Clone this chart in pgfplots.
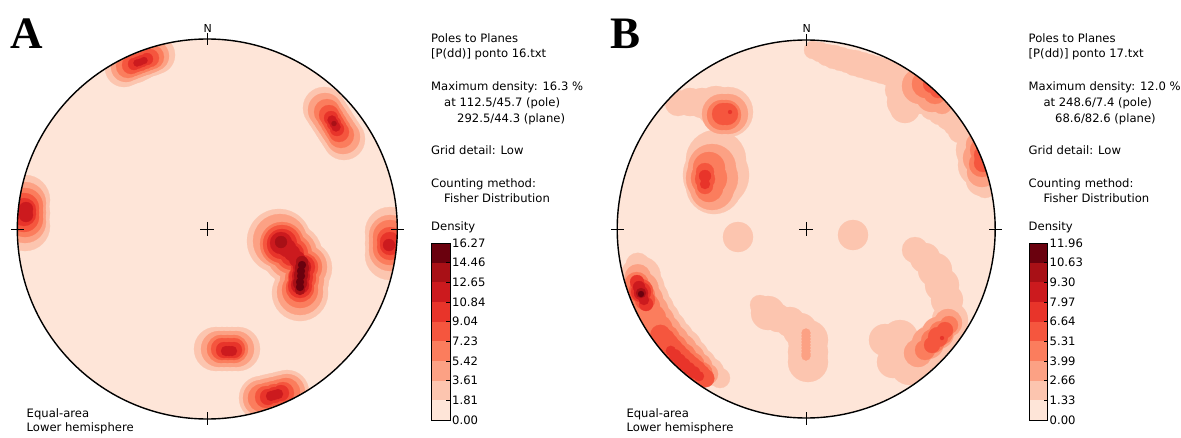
\documentclass[border=0pt]{standalone}
\usepackage{pgfplots}
\usepackage{pgfplotstable}
\pgfplotsset{compat=1.18}
\usepackage{fontspec}
\setmainfont{DejaVu Sans}
\newfontfamily\tnr{Liberation Serif}
\definecolor{L1}{HTML}{FEE5D8}
\definecolor{L2}{HTML}{FCC5AF}
\definecolor{L3}{HTML}{FCA184}
\definecolor{L4}{HTML}{FB7D5D}
\definecolor{L5}{HTML}{F5563E}
\definecolor{L6}{HTML}{E8342A}
\definecolor{L7}{HTML}{CC1A1E}
\definecolor{L8}{HTML}{A81016}
\definecolor{L9}{HTML}{6A010E}
\pgfplotsset{blob/.style={scatter, only marks, mark=*,
  visualization depends on={\thisrow{r} \as \blobr},
  scatter/@pre marker code/.code={\scope[draw=#1, fill=#1, line width=0.2pt, mark size=\blobr]},
  scatter/@post marker code/.code={\endscope}}}
% density levels: x y r (pixel units, y downwards)
\pgfplotstableread{
x y r
207.3 229 190
806.2 229 189
}\levA
\pgfplotstableread{
x y r
124 68 19
129 66 19
135 64 19
140 61.5 19
145 59 19
151 57 19
156 55 19
324 108 21
327.3 113.2 21
330.7 118.3 21
334 123.5 21
337.3 128.7 21
340.7 133.8 21
344 139 21
25 200 25
25 213 25
25 226 25
390 232 25
390 243.5 25
390 255 25
279 241 32
292 254 30
305 268 27
302 280 27
300 293 28
216 349 22
222 349 22
227 349 22
232 349 22
238 349 22
261 398 22
267.5 396.5 22
274 395 22
280.5 393.5 22
287 392 22
813 50 9
820 52 10
827 55 11
834 57 12
841 59 12
848 61 12
855 63 13
862 65 13
869 67 13
876 69 13
883 71 13
890 73 13
897 76 13
898 90 13
903 102 16
905 108 15
915 85 16
922 88 26
932 108 12
940 113 12
948 118 12
955 124 12
960 131 12
975 140 16
978 150 22
980 165 22
982 180 16
985 188 10
678 103 13
690 102 14
702 103 15
716 106 20
728 112 25
716 160 30
716 175 33
714 186 28
738 237 15
853 235 15
637.8 264.8 12
640.7 276.4 20
644.4 287.8 20
648.9 299.0 20
654.1 309.8 20
660.1 320.1 20
666.9 330.1 20
674.2 339.6 20
682.3 348.5 20
690.9 356.8 18
700.1 364.5 16
709.8 371.6 14
720 378 10
760 305 10
768 313 17
778 318 14
790 322 15
800 330 17
808 340 20
808 352 20
808 362 20
915 250 13
925 258 15
935 270 17
942 285 17
947 300 16
950 320 18
935 345 22
885 340 16
900 338 18
893 362 16
910 365 20
925 370 15
955 340 18
}\levB
\pgfplotstableread{
x y r
126 67 15
131 65 15
136 63 15
140 61.5 15
145 60 15
150 58 15
154 56 15
325 110 17
328 114.5 17
331 119 17
334 123.5 17
337 128 17
340 132.5 17
343 137 17
25 203 21
25 212.5 21
25 222 21
390 236 21
390 243 21
390 250 21
280 241 27
292 254 25
305 267 22
302 280 22
300 292 23
219 349 18
224 349 18
230 349 18
236 349 18
261 398 18
267.5 396.5 18
274 395 18
280.5 393.5 18
287 392 18
920 86 18
932 96 16
942 104 10
980 145 14
980 158 17
982 172 15
722 114 20
728 114 20
712 168 24
712 178 26
712 188 22
637.8 277.2 13
641.6 288.9 17
646.1 300.2 17
651.5 311.2 17
657.6 321.7 17
664.4 331.9 17
671.9 341.5 17
680.1 350.6 17
688.9 359.0 16
698.3 366.9 14
708.1 374.1 10
806 333 4.5
806 336 4.5
806 339 4.5
806 342 4.5
806 345 4.5
806 348 4.5
806 351 4.5
806 354 4.5
806 356 4.5
918 353 14
928 343 16
938 333 16
948 323 14
}\levC
\pgfplotstableread{
x y r
128 66 12
132 64.5 12
136 63 12
140 61.5 12
144 60 12
148 58.5 12
152 57 12
327 112 13
330.5 117.7 13
334 123.5 13
337.5 129.2 13
341 135 13
25 206 18
25 212.5 18
25 219 18
390 237 17
390 242.5 17
390 248 17
282 244 22
292 254 20
305 267 17
302 279 17
300 290 18
221 349 14
227.5 349 14
234 349 14
262 398 14
268 396.5 14
274 395 14
280 393.5 14
286 392 14
926 84 14
935 92 12
982 150 12
982 164 13
722 115 15
726 115 15
709 168 16
709 178 18
709 188 14
636.7 284.0 12
641.0 295.7 14
646.0 307.0 14
651.9 318.0 14
658.4 328.5 14
665.7 338.6 14
673.7 348.1 14
682.3 357.0 14
691.6 365.3 13
701.4 373.0 11
925 350 10
933 341 12
941 333 12
949 325 9
}\levD
\pgfplotstableread{
x y r
131 65 9
135 63.5 9
140 62 9
145 60 9
150 58 9
329 115 10
331.5 119.2 10
334 123.5 10
336.5 127.7 10
339 132 10
24 208 15
24 212.5 15
24 217 15
390 240 13
390 247 13
282 244 19
292 254 16
304 267 14
302 278 14
300 288 14
222 349 11
228 349 11
234 349 11
266 397 11
274.5 395 11
283 393 11
932 84 9
938 90 8
983 155 9
983 163 9
723 114 11
727 114 11
705 172 9
705 179 10
705 186 8
641 291 12
645 300 10
660.4 334.8 10
664.2 339.8 11
668.1 344.7 11
672.2 349.4 11
676.5 354.0 11
681.0 358.5 11
685.6 362.8 11
690.3 366.9 11
695.2 370.8 11
700.2 374.6 10
705.3 378.3 9
932 345 8
938 337 10
945 330 8
}\levE
\pgfplotstableread{
x y r
134 64 6
138 62.5 6
142 61 6
147 59 6
331 118 7
334 123.5 7
337 129 7
24 210 12
24 214 12
390 242 10
390 245 10
282 244 15
292 254 12
303 267 12
301 277 12
300 286 12
224 350 8
229 350 8
234 350 8
268 397 8
274.5 395 8
281 393 8
986 158 5
730 112 2
705 176 6
705 184 5
637 282 7
641 292 10
646 304 7
670.8 350.8 5
675.1 355.4 6
679.6 359.9 6
684.2 364.2 6
689.0 368.4 6
694.0 372.4 6
699.0 376.2 5
942 338 2
}\levF
\pgfplotstableread{
x y r
137 63 3.5
140.5 62 3.5
144 60.5 3.5
332 120 4.5
334 123.5 4.5
336 127 4.5
26 209 7
26 215 7
389 245 6
281 243 11
287 248 9
292 253 8
297 259 8
302 267 9
301 276 9
300 285 9
226 351 5
229 351 5
232 351 5
271 396 5
274.5 395 5
278 394 5
639 287 6
641 293 7
644 300 5
}\levG
\pgfplotstableread{
x y r
334 123.5 2.5
281 242 6
302 262 6
302 268 7
301 275 7
300 283 7
300 290 5
641 293 5
}\levH
\pgfplotstableread{
x y r
302 265 4
301 271 4
301 276 4
300 282 4
300 287 4
641 294 3
}\levI
\begin{document}
\begin{tikzpicture}
\useasboundingbox (0,0) rectangle (1181pt,437pt);
\begin{axis}[at={(0pt,0pt)}, anchor=south west, width=1181pt, height=437pt,
  scale only axis, xmin=0, xmax=1181, ymin=0, ymax=437, y dir=reverse,
  hide axis, clip=false]
\addplot[blob=L1] table {\levA};
\addplot[blob=L2] table {\levB};
\addplot[blob=L3] table {\levC};
\addplot[blob=L4] table {\levD};
\addplot[blob=L5] table {\levE};
\addplot[blob=L6] table {\levF};
\addplot[blob=L7] table {\levG};
\addplot[blob=L8] table {\levH};
\addplot[blob=L9] table {\levI};
\end{axis}
\begin{scope}[x=1pt, y=-1pt, shift={(0pt,437pt)}]
% masks outside the nets
\fill[white, even odd rule] (-30,-30) rectangle (425,470) (207.3,229) circle[radius=190];
\fill[white, even odd rule] (590,-30) rectangle (1025,470) (806.2,229) circle[radius=189];
% nets
\draw[line width=1.4pt] (207.3,229) circle[radius=190];
\draw[line width=1.4pt] (806.2,229) circle[radius=189];
\draw[line width=0.8pt] (200.3,229) -- (214.3,229) (207.3,222) -- (207.3,236);
\draw[line width=0.8pt] (207.3,33) -- (207.3,45) (207.3,412) -- (207.3,425)
  (11,229) -- (24,229) (391,229) -- (404,229);
\draw[line width=0.8pt] (799.2,229) -- (813.2,229) (806.2,222) -- (806.2,236);
\draw[line width=0.8pt] (806.2,34) -- (806.2,46) (806.2,412) -- (806.2,425)
  (611,229) -- (624,229) (989,229) -- (1002,229);
\node[font=\fontsize{11}{12}\selectfont, inner sep=0] at (207.8,28.5) {N};
\node[font=\fontsize{11}{12}\selectfont, inner sep=0] at (806.7,28.5) {N};
% panel letters
\node[anchor=base west, inner sep=0, font=\tnr\bfseries\fontsize{45}{45}\selectfont] at (10,49) {A};
\node[anchor=base west, inner sep=0, font=\tnr\bfseries\fontsize{45}{45}\selectfont] at (610,49) {B};
% text blocks
\begin{scope}[every node/.style={anchor=base west, inner sep=0, font=\fontsize{11.6}{13}\selectfont}]
\node at (431,42.7) {Poles to Planes};
\node at (431,57.7) {[P(dd)] ponto 16.txt};
\node at (431,91) {Maximum density: 16.3 \%};
\node at (444,107) {at 112.5/45.7 (pole)};
\node at (457,123) {292.5/44.3 (plane)};
\node at (431,154.5) {Grid detail: Low};
\node at (431,187.5) {Counting method:};
\node at (444,202.5) {Fisher Distribution};
\node at (431,231) {Density};
\node at (26.5,417.7) {Equal-area};
\node at (26.5,431.7) {Lower hemisphere};
\node at (1028.5,42.7) {Poles to Planes};
\node at (1028.5,57.7) {[P(dd)] ponto 17.txt};
\node at (1028.5,91) {Maximum density: 12.0 \%};
\node at (1043.3,107) {at 248.6/7.4 (pole)};
\node at (1055,123) {68.6/82.6 (plane)};
\node at (1028.5,154.5) {Grid detail: Low};
\node at (1028.5,187.5) {Counting method:};
\node at (1043.3,202.5) {Fisher Distribution};
\node at (1028.5,231) {Density};
\node at (626.3,417.7) {Equal-area};
\node at (626.3,431.7) {Lower hemisphere};
\end{scope}
\end{scope}
% colour bars
\pgfplotsset{cbar/.style={anchor=south west, width=19pt, height=177pt, scale only axis,
  xmin=0, xmax=1, ymin=0, ymax=9, xtick=\empty, ytick={0,...,9},
  ytick pos=right, tick align=inside, major tick length=4pt, axis on top,
  axis line style={line width=1pt}, ytick style={line width=0.8pt, black},
  yticklabel style={font=\fontsize{11.6}{13}\selectfont, inner sep=2pt},
  /pgf/number format/assume math mode=true, clip=false}}
\begin{axis}[cbar, at={(431pt,17pt)},
  yticklabels={0.00,1.81,3.61,5.42,7.23,9.04,10.84,12.65,14.46,16.27}]
\addplot[fill=L1, draw=none] coordinates {(0,0) (1,0) (1,1) (0,1)};
\addplot[fill=L2, draw=none] coordinates {(0,1) (1,1) (1,2) (0,2)};
\addplot[fill=L3, draw=none] coordinates {(0,2) (1,2) (1,3) (0,3)};
\addplot[fill=L4, draw=none] coordinates {(0,3) (1,3) (1,4) (0,4)};
\addplot[fill=L5, draw=none] coordinates {(0,4) (1,4) (1,5) (0,5)};
\addplot[fill=L6, draw=none] coordinates {(0,5) (1,5) (1,6) (0,6)};
\addplot[fill=L7, draw=none] coordinates {(0,6) (1,6) (1,7) (0,7)};
\addplot[fill=L8, draw=none] coordinates {(0,7) (1,7) (1,8) (0,8)};
\addplot[fill=L9, draw=none] coordinates {(0,8) (1,8) (1,9) (0,9)};
\end{axis}
\begin{axis}[cbar, at={(1029pt,17pt)}, width=18.5pt,
  yticklabels={0.00,1.33,2.66,3.99,5.31,6.64,7.97,9.30,10.63,11.96}]
\addplot[fill=L1, draw=none] coordinates {(0,0) (1,0) (1,1) (0,1)};
\addplot[fill=L2, draw=none] coordinates {(0,1) (1,1) (1,2) (0,2)};
\addplot[fill=L3, draw=none] coordinates {(0,2) (1,2) (1,3) (0,3)};
\addplot[fill=L4, draw=none] coordinates {(0,3) (1,3) (1,4) (0,4)};
\addplot[fill=L5, draw=none] coordinates {(0,4) (1,4) (1,5) (0,5)};
\addplot[fill=L6, draw=none] coordinates {(0,5) (1,5) (1,6) (0,6)};
\addplot[fill=L7, draw=none] coordinates {(0,6) (1,6) (1,7) (0,7)};
\addplot[fill=L8, draw=none] coordinates {(0,7) (1,7) (1,8) (0,8)};
\addplot[fill=L9, draw=none] coordinates {(0,8) (1,8) (1,9) (0,9)};
\end{axis}
\end{tikzpicture}
\end{document}
